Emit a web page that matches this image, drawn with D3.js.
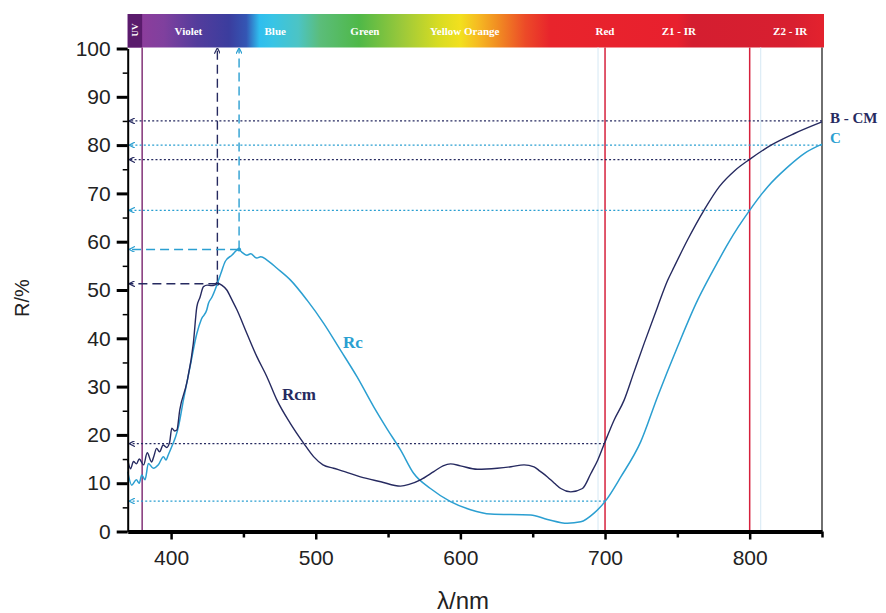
<!DOCTYPE html>
<html>
<head>
<meta charset="utf-8">
<script src="https://cdn.jsdelivr.net/npm/d3@7/dist/d3.min.js"></script>
<style>
    body { margin: 0; background: #fff; }
    text { font-family: "Liberation Sans", Arial, sans-serif; }
    .serif { font-family: "Liberation Serif", "Times New Roman", serif; font-weight: bold; }
</style>
</head>
<body>
<svg id="chart" width="886" height="613"></svg>
<script>

// Reflectance spectra (wavelength in nm, R in %)
var rcmWl  = [370, 372, 374, 376, 378, 381, 383.5, 386.5, 388, 390, 392, 394.5, 397, 399, 400.5, 402.5, 404, 406, 410.8, 415.4, 417.8, 420, 422.4, 425, 428, 430, 432.3, 435, 438.5, 442, 445.5, 452.4, 459.3, 466.3, 473.2, 482.4, 491.6, 498.5, 505, 512.4, 520, 530.9, 545, 558.6, 565, 572.4, 581.6, 588, 593.2, 600, 611.7, 625.5, 635, 644, 650.9, 655, 660.2, 665, 669.4, 676.3, 684.4, 690.2, 695, 699.4, 706.3, 713.2, 720, 727.1, 736.3, 743.3, 747.8, 757.1, 768.6, 779, 790, 800.2, 814.8, 830.9, 850];
var rcmVal = [14.8, 13.0, 14.5, 14.0, 15.0, 13.8, 16.3, 14.4, 15.5, 17.2, 16.5, 17.9, 17.4, 18.5, 21.4, 20.8, 21.0, 25.2, 30.7, 39, 46.5, 48.5, 50.7, 51.0, 50.9, 51.0, 51.4, 51.0, 50.0, 48, 45.9, 41, 36.2, 32, 27.2, 22.4, 18.3, 15.5, 13.8, 13.1, 12.4, 11.3, 10.3, 9.4, 9.8, 10.7, 12.4, 13.6, 14.0, 13.6, 12.9, 13.1, 13.4, 13.8, 13.4, 12.5, 11.3, 10, 8.9, 8.2, 8.9, 12, 14.8, 18.1, 23.1, 27.2, 33, 39, 46.5, 52, 54.8, 60.4, 66.6, 71.4, 74.8, 77.1, 80, 82.4, 84.8];

var rcWl  = [370, 372.8, 376, 378, 379.7, 382, 384.3, 387.7, 391.2, 394.7, 396.5, 398.1, 400.5, 403, 405.1, 408.5, 413.1, 417.8, 421, 424.7, 425.8, 428.2, 431.6, 434.5, 437.4, 442, 446.6, 449, 452.4, 455, 459.3, 462, 466.3, 473.2, 482.4, 494, 505.5, 517, 528.6, 540.1, 549.4, 558.6, 567.8, 579.3, 593.2, 607, 620.9, 648.6, 660.2, 674, 683.2, 692.4, 700.5, 710.9, 724.7, 736.3, 750.2, 764, 771, 777.9, 785, 792, 800.2, 812.5, 826.4, 837.9, 850];
var rcVal = [12.4, 9.6, 10.7, 10.0, 11.7, 10.7, 14.1, 13.1, 13.8, 15.5, 14.8, 15.9, 17.6, 19.5, 21.7, 27.2, 34.1, 41, 44, 45.9, 47.2, 48.5, 51, 53.5, 55.9, 57.2, 58.4, 57.8, 57.2, 57.5, 56.6, 56.9, 56.2, 54.5, 52.1, 47.9, 43.1, 37.6, 32, 25.8, 21.2, 16.9, 12, 8.9, 6.2, 4.5, 3.6, 3.4, 2.5, 1.7, 2.0, 3.8, 6.4, 11.3, 18.6, 27.9, 38.3, 47.9, 52, 55.8, 59.6, 63, 66.6, 71.4, 75.5, 78.3, 80.2];

// Reading lines: level (%) and wavelength where the curve is read
var rcmLevels = [85, 77, 18.2];
var rcmLevelWl = [850, 800, 700];
var rcLevels = [80, 66.5, 6.3];
var rcLevelWl = [850, 800, 700];

// Maxima
var rcmPeak = [432, 51.3];
var rcPeak = [447, 58.4];

// Marker wavelengths
var uvLine = 380;
var irLines = [700, 800];

// Axis ticks
var xMajor = [400, 500, 600, 700, 800];
var xMinor = [450, 550, 650, 750, 850];
var yMajor = [0, 10, 20, 30, 40, 50, 60, 70, 80, 90, 100];
var yMinor = [5, 15, 25, 35, 45, 55, 65, 75, 85, 95];

// Spectrum bar bands
var bandNames = ['Violet', 'Blue', 'Green', 'Yellow Orange', 'Red', 'Z1 - IR', 'Z2 - IR'];
var bandWl    = [412, 472, 534, 603, 700, 751, 828];
var specWl    = [380, 395, 418, 440, 452, 461, 470, 488, 503, 530, 560, 585, 600, 612, 626, 645, 662, 750, 760, 830, 850];
var specCol   = ['#8c3d9c', '#80409e', '#533c9c', '#3b3d9e', '#3456b4', '#2fbdee', '#38c4e6', '#4cc4c4', '#5bbd7a', '#4fb848', '#9cc93a', '#d8dc22', '#f2e01e', '#f6bb22', '#f18c22', '#ec4a28', '#e8242c', '#e8202e', '#d41e30', '#d81f30', '#e3222e'];

var navy = '#262a60', sky = '#2b9fd1';

var svg = d3.select('#chart');
svg.append('rect').attr('width', 886).attr('height', 613).attr('fill', '#fff');

var x = d3.scaleLinear().domain([370, 850]).range([127.7, 822]);
var y = d3.scaleLinear().domain([0, 100]).range([531.5, 48.5]);

//--------------------------------------------------------------
// Defs: gradient + arrow heads

var defs = svg.append('defs');
var grad = defs.append('linearGradient').attr('id', 'spec')
    .attr('gradientUnits', 'userSpaceOnUse')
    .attr('x1', x(370)).attr('x2', x(850)).attr('y1', 0).attr('y2', 0);
grad.selectAll('stop').data(specWl).enter().append('stop')
    .attr('offset', function(d){ return (d - 370) / 480; })
    .attr('stop-color', function(d, i){ return specCol[i]; });

function arrow(id, col)
{
    defs.append('marker').attr('id', id)
        .attr('viewBox', '0 0 8 8').attr('refX', 7).attr('refY', 4)
        .attr('markerWidth', 6).attr('markerHeight', 6)
        .attr('markerUnits', 'userSpaceOnUse')
        .attr('orient', 'auto')
      .append('path').attr('d', 'M0,0 L8,4 L0,8').attr('fill', 'none')
        .attr('stroke', col).attr('stroke-width', 1.6);
}
arrow('aNavy', navy);
arrow('aSky', sky);

//--------------------------------------------------------------
// Spectrum bar

var barTop = 14, barBot = 47.5;
svg.append('rect').attr('x', x(370)).attr('y', barTop)
    .attr('width', x(850) - x(370) + 2).attr('height', barBot - barTop)
    .attr('fill', 'url(#spec)');
svg.append('rect').attr('x', x(370)).attr('y', barTop)
    .attr('width', x(uvLine) - x(370)).attr('height', barBot - barTop)
    .attr('fill', '#5a1b6c');
svg.append('text').attr('class', 'serif')
    .attr('transform', 'translate(' + (x(375) + 3.5) + ',' + 30 + ') rotate(-90)')
    .attr('text-anchor', 'middle').attr('font-size', 9).attr('fill', '#fff').text('UV');

svg.selectAll('.band').data(bandNames).enter().append('text')
    .attr('class', 'serif band')
    .attr('x', function(d, i){ return x(bandWl[i]); })
    .attr('y', 34.5)
    .attr('text-anchor', 'middle').attr('font-size', 11).attr('fill', '#fff')
    .text(function(d){ return d; });

//--------------------------------------------------------------
// Vertical markers

svg.selectAll('.ghost').data(irLines).enter().append('line')
    .attr('x1', function(d){ return x(d) + (d == 700 ? -7 : 11); })
    .attr('x2', function(d){ return x(d) + (d == 700 ? -7 : 11); })
    .attr('y1', barBot).attr('y2', y(0))
    .attr('stroke', '#dcecf6').attr('stroke-width', 1.2);

svg.append('line').attr('x1', x(uvLine)).attr('x2', x(uvLine))
    .attr('y1', barBot).attr('y2', y(0))
    .attr('stroke', '#8a3f80').attr('stroke-width', 1.6);

svg.selectAll('.ir').data(irLines).enter().append('line')
    .attr('x1', function(d){ return x(d); }).attr('x2', function(d){ return x(d); })
    .attr('y1', barBot).attr('y2', y(0))
    .attr('stroke', '#d6203c').attr('stroke-width', 1.5);

// right frame
svg.append('line').attr('x1', x(850)).attr('x2', x(850))
    .attr('y1', barBot).attr('y2', y(0))
    .attr('stroke', '#222').attr('stroke-width', 1.3);

//--------------------------------------------------------------
// Reading lines

function levelLines(levels, wls, col, mk)
{
    svg.append('g').selectAll('line').data(levels).enter().append('line')
        .attr('x1', function(d, i){ return x(wls[i]); })
        .attr('x2', x(370) + 2)
        .attr('y1', function(d){ return y(d); })
        .attr('y2', function(d){ return y(d); })
        .attr('stroke', col).attr('stroke-width', 1.3)
        .attr('stroke-dasharray', '2,2.2')
        .attr('marker-end', 'url(#' + mk + ')');
}
levelLines(rcmLevels, rcmLevelWl, navy, 'aNavy');
levelLines(rcLevels, rcLevelWl, sky, 'aSky');

function peakLines(p, col, mk)
{
    svg.append('line').attr('x1', x(p[0])).attr('x2', x(p[0]))
        .attr('y1', y(p[1])).attr('y2', y(100))
        .attr('stroke', col).attr('stroke-width', 1.4)
        .attr('stroke-dasharray', '9,5').attr('marker-end', 'url(#' + mk + ')');
    svg.append('line').attr('x1', x(p[0])).attr('x2', x(370) + 2)
        .attr('y1', y(p[1])).attr('y2', y(p[1]))
        .attr('stroke', col).attr('stroke-width', 1.4)
        .attr('stroke-dasharray', '9,5').attr('marker-end', 'url(#' + mk + ')');
    svg.append('circle').attr('cx', x(p[0])).attr('cy', y(p[1])).attr('r', 2)
        .attr('fill', col);
}
peakLines(rcmPeak, navy, 'aNavy');
peakLines(rcPeak, sky, 'aSky');

//--------------------------------------------------------------
// Curves

var line = d3.line()
    .x(function(d){ return x(d[0]); })
    .y(function(d){ return y(d[1]); })
    .curve(d3.curveMonotoneX);

svg.append('path').datum(d3.zip(rcWl, rcVal))
    .attr('d', line).attr('fill', 'none')
    .attr('stroke', sky).attr('stroke-width', 1.5);

svg.append('path').datum(d3.zip(rcmWl, rcmVal))
    .attr('d', line).attr('fill', 'none')
    .attr('stroke', navy).attr('stroke-width', 1.4);

//--------------------------------------------------------------
// Axes

var gx = svg.append('g').attr('transform', 'translate(0,' + y(0) + ')')
    .call(d3.axisBottom(x).tickValues(xMajor).tickSize(8).tickSizeOuter(0).tickPadding(11).tickFormat(d3.format('d')));
svg.append('g').attr('transform', 'translate(0,' + y(0) + ')')
    .call(d3.axisBottom(x).tickValues(xMinor).tickSize(6).tickSizeOuter(0).tickFormat(''))
    .call(function(g){ g.select('.domain').remove(); g.selectAll('line').attr('stroke-width', 2.5); });
gx.select('.domain').attr('stroke', '#000').attr('stroke-width', 4);
gx.selectAll('line').attr('stroke-width', 2.5);
gx.selectAll('text').attr('font-size', 21).attr('fill', '#222')
    .attr('font-family', '"Liberation Sans", Arial, sans-serif');

var gy = svg.append('g').attr('transform', 'translate(' + x(370) + ',0)')
    .call(d3.axisLeft(y).tickValues(yMajor).tickSize(11).tickSizeOuter(0).tickPadding(6));
svg.append('g').attr('transform', 'translate(' + x(370) + ',0)')
    .call(d3.axisLeft(y).tickValues(yMinor).tickSize(5).tickSizeOuter(0).tickFormat(''))
    .call(function(g){ g.select('.domain').remove(); g.selectAll('line').attr('stroke-width', 1.5); });
gy.select('.domain').attr('stroke', '#000').attr('stroke-width', 2);
gy.selectAll('line').attr('stroke-width', 3);
gy.selectAll('text').attr('font-size', 21).attr('fill', '#222')
    .attr('font-family', '"Liberation Sans", Arial, sans-serif');

// axis titles
svg.append('text').attr('transform', 'translate(29,298) rotate(-90)')
    .attr('text-anchor', 'middle').attr('font-size', 20).attr('fill', '#222').text('R/%');
svg.append('text').attr('x', 463).attr('y', 609)
    .attr('text-anchor', 'middle').attr('font-size', 24).attr('fill', '#222').text('λ/nm');

//--------------------------------------------------------------
// Labels

svg.append('text').attr('class', 'serif').attr('x', 830).attr('y', 123)
    .attr('font-size', 15).attr('fill', navy).text('B - CM');
svg.append('text').attr('class', 'serif').attr('x', 830).attr('y', 143)
    .attr('font-size', 15).attr('fill', sky).text('C');
svg.append('text').attr('class', 'serif').attr('x', 343).attr('y', 348)
    .attr('font-size', 17).attr('fill', sky).text('Rc');
svg.append('text').attr('class', 'serif').attr('x', 282).attr('y', 400)
    .attr('font-size', 17).attr('fill', navy).text('Rcm');

</script>
</body>
</html>
